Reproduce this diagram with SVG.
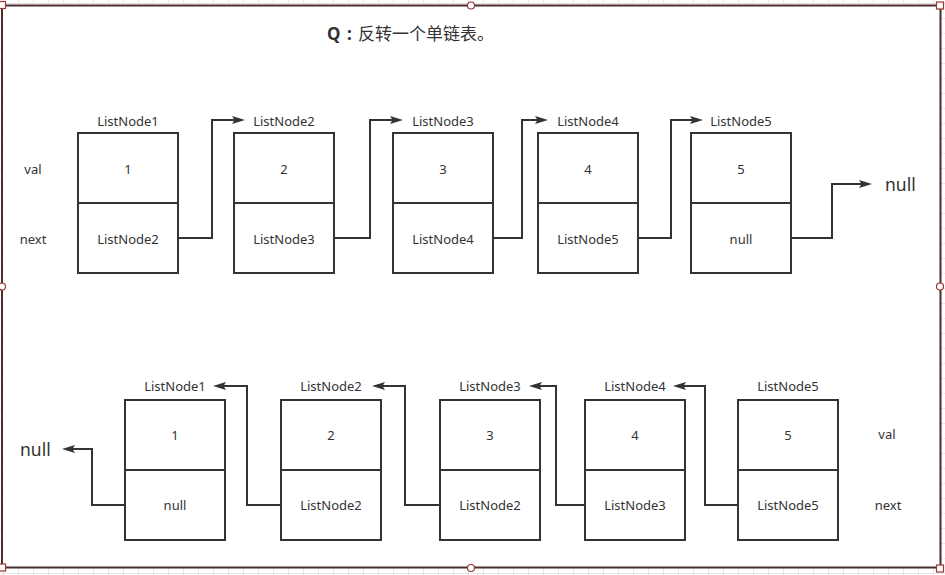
<svg xmlns="http://www.w3.org/2000/svg" width="945" height="575" viewBox="0 0 945 575">
<defs>
<pattern id="grid" width="15" height="15" patternUnits="userSpaceOnUse" x="3" y="3">
<path d="M0,0.5 H15 M0.5,0 V15" stroke="#e6e6e6" stroke-width="1" fill="none"/>
</pattern>
<marker id="arr" markerWidth="14" markerHeight="10" refX="6" refY="4.5" orient="auto" markerUnits="userSpaceOnUse">
<path d="M0,0.5 L13,4.5 L0,8.5 L2.5,4.5 z" fill="#333"/>
</marker>
</defs>
<style>
.box{fill:#fff;stroke:#333;stroke-width:2}
.div{stroke:#333;stroke-width:2}
.t{font-family:"Noto Sans","Noto Sans CJK SC",sans-serif;font-size:13px;fill:#333;text-anchor:middle;dominant-baseline:central}
.big{font-family:"Noto Sans","Noto Sans CJK SC",sans-serif;font-size:17.5px;fill:#333;dominant-baseline:central}
.conn path{fill:none;stroke:#333;stroke-width:2;marker-end:url(#arr)}
.h{fill:#fff;stroke:#9a3535;stroke-width:1.2}
</style>
<rect width="945" height="575" fill="#fff"/>
<rect width="945" height="575" fill="url(#grid)"/>
<g id="frame">
<rect x="2" y="5.5" width="938.5" height="562" fill="#fff" stroke="#4a2d2d" stroke-width="2"/>
<rect class="h" x="-1.5" y="1.5" width="7" height="7"/>
<rect class="h" x="936.5" y="2" width="7" height="7"/>
<rect class="h" x="-1.5" y="564" width="7" height="7"/>
<rect class="h" x="936.5" y="565" width="7" height="7"/>
<circle class="h" cx="471" cy="5.5" r="3.5"/>
<circle class="h" cx="2" cy="286.5" r="3.5"/>
<circle class="h" cx="940" cy="286.5" r="3.5"/>
<circle class="h" cx="471" cy="568" r="3.5"/>
</g>
<g id="title">
<text font-family="Noto Sans, Noto Sans CJK SC, sans-serif" font-size="17" fill="#333" y="40"><tspan x="327" font-weight="bold">Q</tspan><tspan x="347" font-weight="bold">:</tspan><tspan x="358">反转一个单链表。</tspan></text>
</g>
<g id="labels">
<text class="t" x="33" y="169">val</text>
<text class="t" x="33" y="239">next</text>
<text class="t" x="887" y="434">val</text>
<text class="t" x="888" y="505">next</text>
<text class="big" x="885" y="184">null</text>
<text class="big" x="20" y="449">null</text>
</g>
<g id="top1"><text class="t" x="128" y="120.5">ListNode1</text><rect class="box" x="78" y="133" width="100" height="140"/><line class="div" x1="78" y1="203" x2="178" y2="203"/><text class="t" x="128" y="169">1</text><text class="t" x="128" y="239">ListNode2</text></g>
<g id="top2"><text class="t" x="284" y="120.5">ListNode2</text><rect class="box" x="234" y="133" width="100" height="140"/><line class="div" x1="234" y1="203" x2="334" y2="203"/><text class="t" x="284" y="169">2</text><text class="t" x="284" y="239">ListNode3</text></g>
<g id="top3"><text class="t" x="443" y="120.5">ListNode3</text><rect class="box" x="393" y="133" width="100" height="140"/><line class="div" x1="393" y1="203" x2="493" y2="203"/><text class="t" x="443" y="169">3</text><text class="t" x="443" y="239">ListNode4</text></g>
<g id="top4"><text class="t" x="588" y="120.5">ListNode4</text><rect class="box" x="538" y="133" width="100" height="140"/><line class="div" x1="538" y1="203" x2="638" y2="203"/><text class="t" x="588" y="169">4</text><text class="t" x="588" y="239">ListNode5</text></g>
<g id="top5"><text class="t" x="741" y="120.5">ListNode5</text><rect class="box" x="691" y="133" width="100" height="140"/><line class="div" x1="691" y1="203" x2="791" y2="203"/><text class="t" x="741" y="169">5</text><text class="t" x="741" y="239">null</text></g>
<g id="bot1"><text class="t" x="175" y="386">ListNode1</text><rect class="box" x="125" y="400" width="100" height="140"/><line class="div" x1="125" y1="470" x2="225" y2="470"/><text class="t" x="175" y="435">1</text><text class="t" x="175" y="505">null</text></g>
<g id="bot2"><text class="t" x="331" y="386">ListNode2</text><rect class="box" x="281" y="400" width="100" height="140"/><line class="div" x1="281" y1="470" x2="381" y2="470"/><text class="t" x="331" y="435">2</text><text class="t" x="331" y="505">ListNode2</text></g>
<g id="bot3"><text class="t" x="490" y="386">ListNode3</text><rect class="box" x="440" y="400" width="100" height="140"/><line class="div" x1="440" y1="470" x2="540" y2="470"/><text class="t" x="490" y="435">3</text><text class="t" x="490" y="505">ListNode2</text></g>
<g id="bot4"><text class="t" x="635" y="386">ListNode4</text><rect class="box" x="585" y="400" width="100" height="140"/><line class="div" x1="585" y1="470" x2="685" y2="470"/><text class="t" x="635" y="435">4</text><text class="t" x="635" y="505">ListNode3</text></g>
<g id="bot5"><text class="t" x="788" y="386">ListNode5</text><rect class="box" x="738" y="400" width="100" height="140"/><line class="div" x1="738" y1="470" x2="838" y2="470"/><text class="t" x="788" y="435">5</text><text class="t" x="788" y="505">ListNode5</text></g>
<g id="connectors" class="conn">
<path d="M178,238 H212 V120 H238"/>
<path d="M334,238 H370 V120 H396"/>
<path d="M493,238 H522 V120 H541"/>
<path d="M638,238 H671 V120 H696"/>
<path d="M791,238 H832 V184 H865"/>
<path d="M125,505 H92 V449 H69"/>
<path d="M281,505 H247 V386 H220"/>
<path d="M440,505 H405 V386 H379"/>
<path d="M585,505 H556 V386 H536"/>
<path d="M738,505 H705 V386 H680"/>
</g>
</svg>
